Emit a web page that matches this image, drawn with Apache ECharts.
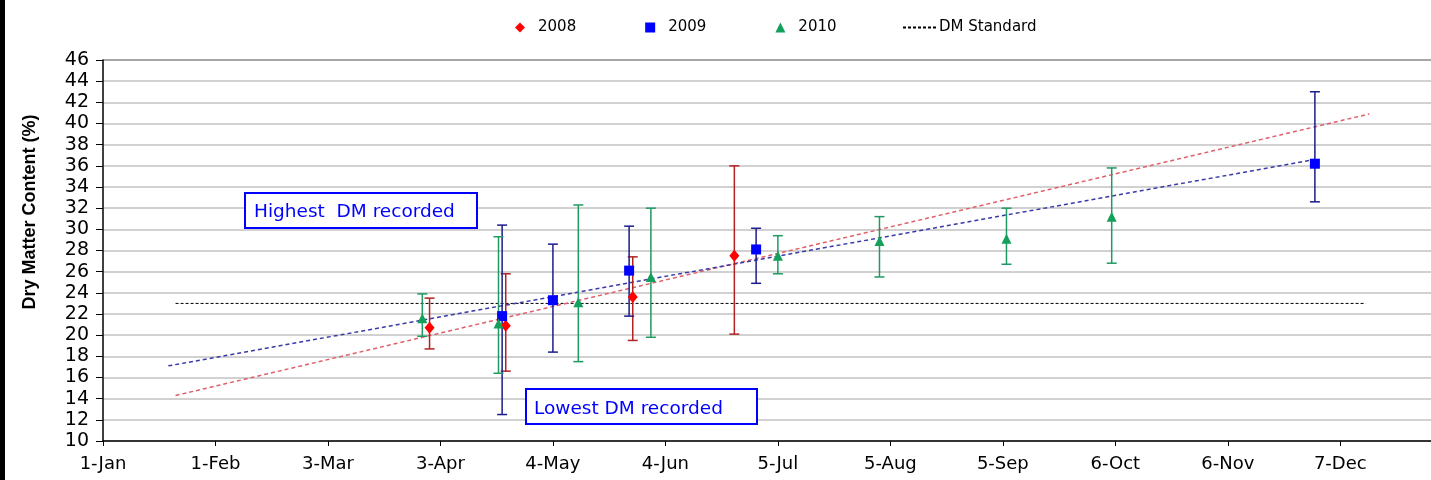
<!DOCTYPE html>
<html>
<head>
<meta charset="utf-8">
<script src="https://cdn.jsdelivr.net/npm/echarts@6/dist/echarts.min.js"></script>
<style>
html,body{margin:0;padding:0;background:#fff;}
#chart{width:1431px;height:480px;}
</style>
</head>
<body>
<div id="chart"></div>
<script>
// ---- data (x = day of year, starting 1-Jan = 0) ----
var xTickDays = [0, 31, 62, 93, 124, 155, 186, 217, 248, 279, 310, 341];
var xTickLabels = ['1-Jan', '1-Feb', '3-Mar', '3-Apr', '4-May', '4-Jun', '5-Jul', '5-Aug', '5-Sep', '6-Oct', '6-Nov', '7-Dec'];

var days2008 = [90, 111, 146, 174];
var mean2008 = [20.7, 20.9, 23.6, 27.5];
var low2008 = [18.7, 16.6, 19.5, 20.1];
var high2008 = [23.5, 25.8, 27.4, 36.0];

var days2009 = [110, 124, 145, 180, 334];
var mean2009 = [21.8, 23.3, 26.1, 28.1, 36.2];
var low2009 = [12.5, 18.4, 21.8, 24.9, 32.6];
var high2009 = [30.4, 28.6, 30.3, 30.1, 43.0];

var days2010 = [88, 109, 131, 151, 186, 214, 249, 278];
var mean2010 = [21.6, 21.1, 23.1, 25.5, 27.5, 28.9, 29.1, 31.2];
var low2010 = [19.9, 16.4, 17.5, 19.8, 25.8, 25.5, 26.7, 26.8];
var high2010 = [23.9, 29.3, 32.3, 32.0, 29.4, 31.2, 32.0, 35.8];

var trendDays2008 = [20, 349];
var trend2008 = [14.3, 40.9];
var trendDays2009 = [18, 334];
var trend2009 = [17.1, 36.6];

var dmDays = [20, 348];
var dmValues = [23, 23];

var yTicks = [10, 12, 14, 16, 18, 20, 22, 24, 26, 28, 30, 32, 34, 36, 38, 40, 42, 44, 46];

// ---- helpers ----
function zip(a, b) { return a.map(function (v, i) { return [v, b[i]]; }); }
function zip3(a, b, c) { return a.map(function (v, i) { return [v, b[i], c[i]]; }); }

function errorSeries(days, low, high, color) {
  return {
    type: 'custom',
    data: zip3(days, low, high),
    encode: { x: 0, y: [1, 2] },
    silent: true,
    z: 3,
    renderItem: function (params, api) {
      var x = api.value(0);
      var lo = api.coord([x, api.value(1)]);
      var hi = api.coord([x, api.value(2)]);
      var hw = 5;
      var st = { stroke: color, lineWidth: 1.5 };
      return {
        type: 'group',
        children: [
          { type: 'line', shape: { x1: lo[0], y1: lo[1], x2: hi[0], y2: hi[1] }, style: st },
          { type: 'line', shape: { x1: hi[0] - hw, y1: hi[1], x2: hi[0] + hw, y2: hi[1] }, style: st },
          { type: 'line', shape: { x1: lo[0] - hw, y1: lo[1], x2: lo[0] + hw, y2: lo[1] }, style: st }
        ]
      };
    }
  };
}

var gridColors = yTicks.map(function (v, i) { return i === yTicks.length - 1 ? '#8a8a8a' : '#c2c2c2'; });

var chart = echarts.init(document.getElementById('chart'), null, { renderer: 'canvas' });

chart.setOption({
  animation: false,
  backgroundColor: '#ffffff',
  textStyle: { fontFamily: 'DejaVu Sans' },
  grid: { left: 103, right: 0, top: 60, bottom: 39, containLabel: false },
  legend: [
    {
      data: ['2008', '2009', '2010'],
      left: 510, top: 15,
      itemWidth: 10, itemHeight: 10, itemGap: 69,
      itemStyle: { opacity: 1 },
      textStyle: { fontFamily: 'DejaVu Sans', fontSize: 15, color: '#000', padding: [0, 0, 0, 8] },
      selectedMode: false
    },
    {
      data: ['DM Standard'],
      left: 897, top: 15,
      itemWidth: 35, itemHeight: 10, itemGap: 0,
      itemStyle: { opacity: 0 },
      textStyle: { fontFamily: 'DejaVu Sans', fontSize: 15, color: '#000', padding: [0, 0, 0, -4] },
      selectedMode: false
    }
  ],
  xAxis: {
    type: 'value',
    min: 0, max: 366, interval: 31,
    axisLine: { show: true, lineStyle: { color: '#000', width: 1.5 } },
    axisTick: { show: true, length: 5, lineStyle: { color: '#000' } },
    splitLine: { show: false },
    axisLabel: {
      color: '#000', fontFamily: 'DejaVu Sans', fontSize: 18, margin: 14,
      showMaxLabel: false,
      formatter: function (v) {
        var i = xTickDays.indexOf(Math.round(v));
        return i >= 0 ? xTickLabels[i] : '';
      }
    }
  },
  yAxis: {
    type: 'value',
    min: 10, max: 46, interval: 2,
    axisLine: { show: true, lineStyle: { color: '#000', width: 1.5 } },
    axisTick: { show: true, length: 7, lineStyle: { color: '#000' } },
    splitLine: { show: true, lineStyle: { color: gridColors, width: 1.5 } },
    axisLabel: { color: '#000', fontFamily: 'DejaVu Sans', fontSize: 19, margin: 14 }
  },
  graphic: [
    { type: 'rect', left: 0, top: 0, shape: { width: 5, height: 480 }, style: { fill: '#000' }, z: 100 },
    {
      type: 'text', x: 30, y: 212, rotation: Math.PI / 2,
      style: { text: 'Dry Matter Content (%)', fontFamily: 'Liberation Sans', fontWeight: 'bold', fontSize: 18, fill: '#000', align: 'center', verticalAlign: 'middle' }
    },
    { type: 'rect', shape: { x: 245, y: 193, width: 232, height: 35 }, style: { fill: '#fff', stroke: '#0000ff', lineWidth: 2 }, z: 50 },
    { type: 'text', x: 254, y: 212, style: { text: 'Highest  DM recorded', fontFamily: 'DejaVu Sans', fontSize: 18.5, fill: '#0000ff', verticalAlign: 'middle' }, z: 51 },
    { type: 'rect', shape: { x: 526, y: 389, width: 231, height: 35 }, style: { fill: '#fff', stroke: '#0000ff', lineWidth: 2 }, z: 50 },
    { type: 'text', x: 534, y: 409, style: { text: 'Lowest DM recorded', fontFamily: 'DejaVu Sans', fontSize: 18.5, fill: '#0000ff', verticalAlign: 'middle' }, z: 51 }
  ],
  series: [
    {
      name: 'DM Standard', type: 'line', data: zip(dmDays, dmValues),
      symbol: 'none', silent: true, z: 2,
      lineStyle: { color: '#000', width: 1, type: [3, 2] },
      itemStyle: { color: '#000' }
    },
    {
      type: 'line', data: zip(trendDays2008, trend2008),
      symbol: 'none', silent: true, z: 2,
      lineStyle: { color: '#e0606a', width: 1.5, type: [4, 3] }
    },
    {
      type: 'line', data: zip(trendDays2009, trend2009),
      symbol: 'none', silent: true, z: 2,
      lineStyle: { color: '#3a3aa8', width: 1.5, type: [4, 3] }
    },
    errorSeries(days2008, low2008, high2008, '#b22222'),
    errorSeries(days2009, low2009, high2009, '#1c1c8c'),
    errorSeries(days2010, low2010, high2010, '#1f9a62'),
    {
      name: '2008', type: 'scatter', data: zip(days2008, mean2008),
      symbol: 'diamond', symbolSize: [10, 12], z: 5,
      itemStyle: { color: '#ff0000', opacity: 1 }
    },
    {
      name: '2009', type: 'scatter', data: zip(days2009, mean2009),
      symbol: 'rect', symbolSize: 10, z: 5,
      itemStyle: { color: '#0000ff', opacity: 1 }
    },
    {
      name: '2010', type: 'scatter', data: zip(days2010, mean2010),
      symbol: 'triangle', symbolSize: 10, z: 5,
      itemStyle: { color: '#12a05a', opacity: 1 }
    }
  ]
});
</script>
</body>
</html>
